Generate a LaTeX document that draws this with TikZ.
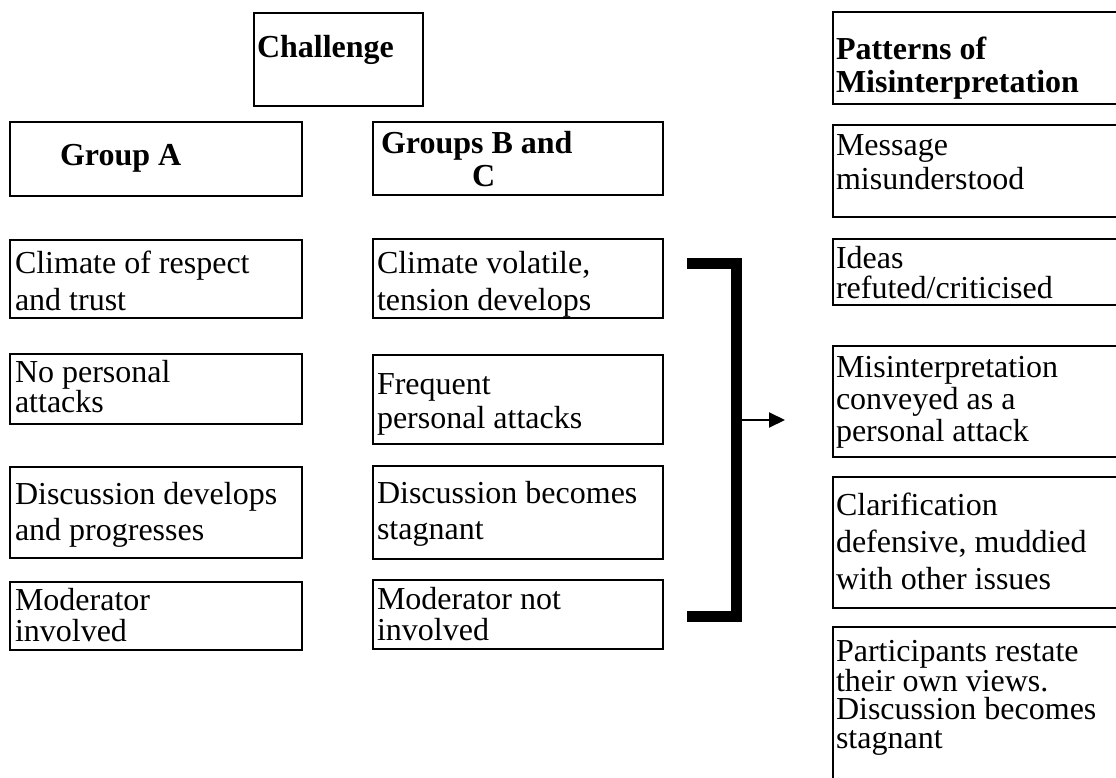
\documentclass[tikz,border=0pt]{standalone}
\usepackage{fontspec}
\setmainfont{Liberation Serif}
\usetikzlibrary{arrows.meta,fit}
\newcommand\fstrut{\rule{0pt}{26pt}}
\begin{document}
\begin{tikzpicture}[x=1pt,y=-1pt,
  box/.style={draw, line width=2pt, inner sep=0pt, outer sep=0pt},
  txt/.style={inner sep=0pt, outer sep=0pt, align=left, anchor=north west, font=\fontsize{32}{#1}\selectfont},
  txt/.default=34,
  btxt/.style={inner sep=0pt, outer sep=0pt, align=left, anchor=north west, font=\fontsize{32}{#1}\selectfont\bfseries},
  btxt/.default=34,
  bracketline/.style={line width=11pt, line join=miter},
  conn/.style={line width=2pt, -{Triangle[length=16pt,width=15pt]}}
]
\useasboundingbox (0,0) rectangle (1116,778);
\clip (0,0) rectangle (1116,778);

% header boxes
\node[box, fit={(254,13) (423,106)}] (chal) {};
\node[btxt] (chalt) at (257,32) {\fstrut Challenge};

\node[box, fit={(10,122) (302,196)}] (ga) {};
\node[btxt] (gat) at (60,140) {\fstrut Group A};

\node[box, fit={(373,122) (663,195)}] (gbc) {};
\node[btxt=33] (gbct) at (381,128) {\fstrut Groups B and\\\hspace*{91pt}C};

\node[box, fit={(833,12) (1130,104)}] (pat) {};
\node[btxt=33] (patt) at (836,34) {\fstrut Patterns of\\Misinterpretation};

% left column
\node[box, fit={(10,240) (302,318)}] (a1) {};
\node[txt=37] (a1t) at (15,247) {\fstrut Climate of respect\\and trust};
\node[box, fit={(10,354) (302,424)}] (a2) {};
\node[txt=29] (a2t) at (15,356) {\fstrut No personal\\attacks};
\node[box, fit={(10,467) (302,558)}] (a3) {};
\node[txt=36] (a3t) at (15,478) {\fstrut Discussion develops\\and progresses};
\node[box, fit={(10,582) (302,650)}] (a4) {};
\node[txt=31] (a4t) at (15,584) {\fstrut Moderator\\involved};

% middle column
\node[box, fit={(373,239) (663,318)}] (b1) {};
\node[txt=37] (b1t) at (377,247) {\fstrut Climate volatile,\\tension develops};
\node[box, fit={(373,355) (663,444)}] (b2) {};
\node[txt=34] (b2t) at (377,368) {\fstrut Frequent\\personal attacks};
\node[box, fit={(373,466) (663,559)}] (b3) {};
\node[txt=36] (b3t) at (377,477) {\fstrut Discussion becomes\\stagnant};
\node[box, fit={(373,580) (663,649)}] (b4) {};
\node[txt=31] (b4t) at (377,583) {\fstrut Moderator not\\involved};

% right column
\node[box, fit={(833,125) (1130,217)}] (c1) {};
\node[txt=35] (c1t) at (836,129) {\fstrut Message\\misunderstood};
\node[box, fit={(833,239) (1130,305)}] (c2) {};
\node[txt=30] (c2t) at (836,242) {\fstrut Ideas\\refuted/criticised};
\node[box, fit={(833,346) (1130,457)}] (c3) {};
\node[txt=32] (c3t) at (836,351) {\fstrut Misinterpretation\\conveyed as a\\personal attack};
\node[box, fit={(833,477) (1130,608)}] (c4) {};
\node[txt=37] (c4t) at (836,489) {\fstrut Clarification\\defensive, muddied\\with other issues};
\node[box, fit={(833,627) (1130,800)}] (c5) {};
\node[txt=28.5] (c5t) at (836,635) {\fstrut Participants restate\\their own views.\\Discussion becomes\\stagnant};

% bracket and arrow
\coordinate (brt) at (687,263);
\coordinate (brtc) at (736.5,263);
\coordinate (brbc) at (736.5,616);
\coordinate (brb) at (687,616);
\coordinate (brm) at (742,420);
\coordinate (tip) at (785,420);
\draw[bracketline] (brt) -- (brtc) -- (brbc) -- (brb);
\draw[conn] (brm) -- (tip);
\end{tikzpicture}
\end{document}
